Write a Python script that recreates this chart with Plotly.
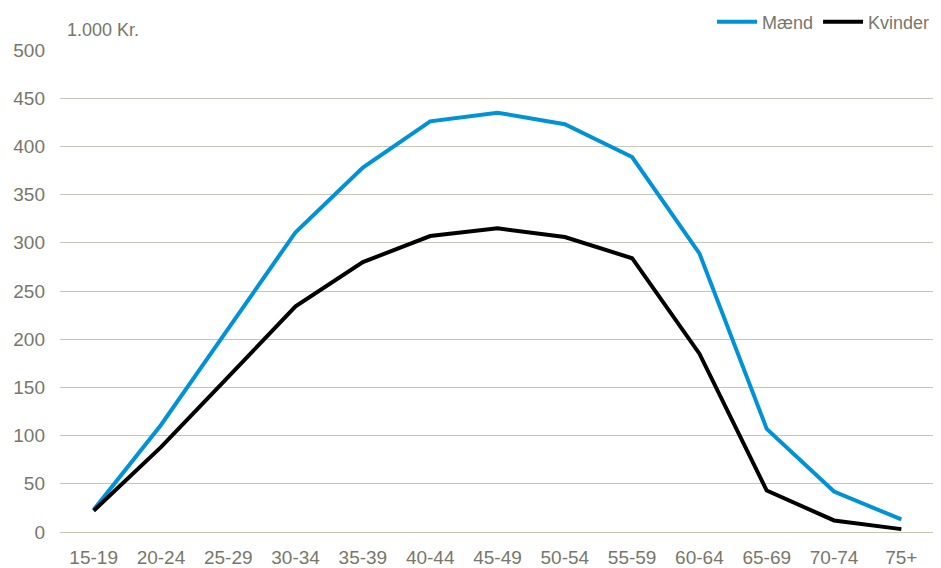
import plotly.graph_objects as go

categories = ["15-19", "20-24", "25-29", "30-34", "35-39", "40-44", "45-49",
              "50-54", "55-59", "60-64", "65-69", "70-74", "75+"]
maend = [23, 111, 211, 311, 378, 426, 435, 423, 389, 289, 107, 42, 13]
kvinder = [22, 88, 161, 234, 280, 307, 315, 306, 284, 185, 43, 12, 3]
y_ticks = [0, 50, 100, 150, 200, 250, 300, 350, 400, 450, 500]

text_color = "#77776a"
grid_color = "#c6c6b6"
fs = 19

fig = go.Figure()
fig.add_trace(go.Scatter(x=categories, y=maend, name="Mænd", mode="lines",
                         line=dict(color="#0092d6", width=4)))
fig.add_trace(go.Scatter(x=categories, y=kvinder, name="Kvinder", mode="lines",
                         line=dict(color="#000000", width=4)))

fig.update_layout(
    width=933, height=560,
    margin=dict(l=52, r=6, t=42, b=36, autoexpand=False),
    paper_bgcolor="white", plot_bgcolor="white",
    font=dict(family="Liberation Sans, Arial, sans-serif", size=fs, color=text_color),
    showlegend=True,
    legend=dict(orientation="h", x=1.0, xanchor="right", y=1.058, yanchor="middle",
                font=dict(size=18, color=text_color), bgcolor="rgba(0,0,0,0)",
                itemwidth=40, tracegroupgap=0),
    xaxis=dict(type="category", range=[-0.5, 12.5], showgrid=False, showline=False,
               ticks="", ticklabelstandoff=12, tickfont=dict(size=fs, color=text_color)),
    yaxis=dict(range=[0, 500], tickvals=y_ticks, showgrid=True, gridcolor=grid_color,
               gridwidth=1.2, zeroline=True, zerolinecolor=grid_color, zerolinewidth=1.2,
               showline=False, ticks="", ticklabelstandoff=14,
               tickfont=dict(size=fs, color=text_color)),
    annotations=[dict(text="1.000 Kr.", xref="paper", yref="paper", x=0.006, y=1.041,
                      xanchor="left", yanchor="middle", showarrow=False,
                      font=dict(size=18, color=text_color))],
)

fig.write_html("out.html")
